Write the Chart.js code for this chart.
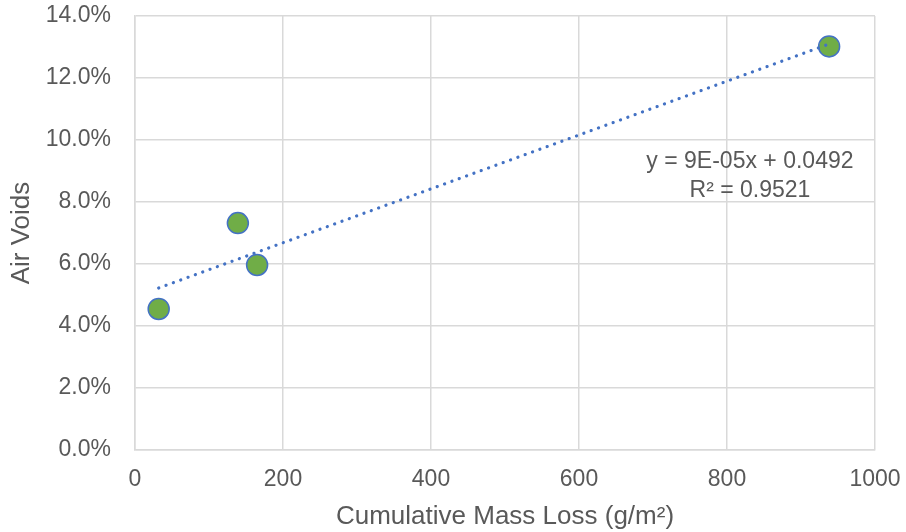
<!DOCTYPE html>
<html>
<head>
<meta charset="utf-8">
<script src="https://cdn.jsdelivr.net/npm/chart.js@4.4.1/dist/chart.umd.min.js"></script>
<style>
    html, body { margin: 0; padding: 0; background: #fff; }
    #wrap { width: 906px; height: 532px; }
</style>
</head>
<body>
<div id="wrap"><canvas id="massChart" width="906" height="532"></canvas></div>
<script>
const massLoss = [32, 139, 165, 938];
const airVoids = [0.0455, 0.0732, 0.0597, 0.1302];
const xTicks = [0, 200, 400, 600, 800, 1000];
const yTicks = [0, 0.02, 0.04, 0.06, 0.08, 0.10, 0.12, 0.14];
const equationText = ['y = 9E-05x + 0.0492', 'R\u00b2 = 0.9521'];

// Linear trendline (least squares), drawn between the smallest and largest x
function linearFit(xs, ys) {
    const n = xs.length;
    const mx = xs.reduce((a, b) => a + b, 0) / n;
    const my = ys.reduce((a, b) => a + b, 0) / n;
    let sxy = 0, sxx = 0;
    xs.forEach((x, i) => {
        sxy += (x - mx) * (ys[i] - my);
        sxx += (x - mx) * (x - mx);
    });
    const slope = sxy / sxx;
    return { slope, intercept: my - slope * mx };
}
const fit = linearFit(massLoss, airVoids);
const xMin = Math.min(...massLoss);
const xMax = Math.max(...massLoss);
const trendPoints = [xMin, xMax].map(x => ({ x, y: fit.slope * x + fit.intercept }));

const textColor = '#595959';
const gridColor = '#d9d9d9';
const fontFamily = '"Liberation Sans", Arial, sans-serif';

// Equation label next to the trendline
const equationLabel = {
    id: 'equationLabel',
    afterDatasetsDraw(chart) {
        const ctx = chart.ctx;
        const cx = chart.scales.x.getPixelForValue(831);
        ctx.save();
        ctx.fillStyle = textColor;
        ctx.font = '23px ' + fontFamily;
        ctx.textAlign = 'center';
        ctx.textBaseline = 'middle';
        ctx.fillText(equationText[0], cx, 162);
        ctx.fillText(equationText[1], cx, 191);
        ctx.restore();
    }
};

const ctx = document.getElementById('massChart').getContext('2d');
const massChart = new Chart(ctx, {
    type: 'scatter',
    data: {
        datasets: [
            {
                label: 'Linear trend',
                type: 'line',
                data: trendPoints,
                borderColor: '#4472c4',
                borderWidth: 3.2,
                borderDash: [0.1, 7.7],
                borderCapStyle: 'round',
                pointRadius: 0,
                fill: false,
                order: 0
            },
            {
                label: 'Air Voids',
                data: massLoss.map((x, i) => ({ x, y: airVoids[i] })),
                backgroundColor: '#70ad47',
                borderColor: '#4472c4',
                borderWidth: 1.5,
                pointRadius: 10.5,
                pointHoverRadius: 10.5,
                order: 1
            }
        ]
    },
    options: {
        responsive: false,
        animation: false,
        layout: { padding: { top: 16, right: 31, left: 0, bottom: 0 } },
        plugins: {
            legend: { display: false },
            tooltip: { enabled: false }
        },
        scales: {
            x: {
                type: 'linear',
                min: 0,
                max: 1000,
                afterBuildTicks: scale => { scale.ticks = xTicks.map(v => ({ value: v })); },
                afterFit: scale => {
                    scale.height = 82;
                    scale.paddingLeft = 0;
                    scale.paddingRight = 0;
                },
                grid: { color: gridColor, lineWidth: 1.5, drawTicks: false },
                border: { color: gridColor, width: 1.5 },
                ticks: {
                    color: textColor,
                    font: { family: fontFamily, size: 23 },
                    padding: 16,
                    callback: v => String(v)
                },
                title: {
                    display: true,
                    text: 'Cumulative Mass Loss (g/m\u00b2)',
                    color: textColor,
                    font: { family: fontFamily, size: 26 },
                    padding: { top: 0, bottom: 0 }
                }
            },
            y: {
                min: 0,
                max: 0.14,
                afterBuildTicks: scale => { scale.ticks = yTicks.map(v => ({ value: v })); },
                afterFit: scale => {
                    scale.width = 135;
                    scale.paddingTop = 0;
                    scale.paddingBottom = 0;
                },
                grid: { color: gridColor, lineWidth: 1.5, drawTicks: false },
                border: { color: gridColor, width: 1.5 },
                ticks: {
                    color: textColor,
                    font: { family: fontFamily, size: 23 },
                    padding: 24,
                    callback: v => (v * 100).toFixed(1) + '%'
                },
                title: {
                    display: true,
                    text: 'Air Voids',
                    color: textColor,
                    font: { family: fontFamily, size: 26 },
                    padding: { top: 6, bottom: 0 }
                }
            }
        }
    },
    plugins: [equationLabel]
});
</script>
</body>
</html>
